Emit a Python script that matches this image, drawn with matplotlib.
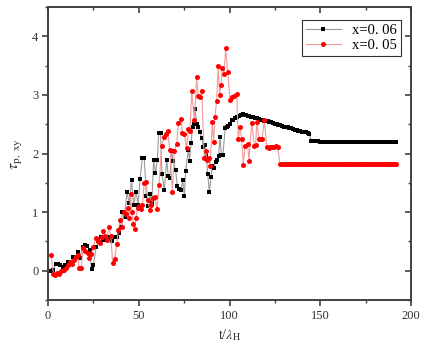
import matplotlib
matplotlib.use("Agg")
import matplotlib.pyplot as plt
from matplotlib.ticker import MultipleLocator

# x=0.06 (black squares)
t_06 = [1.6, 3.0, 4.2, 5.5, 6.8, 8.2, 9.6, 11.0, 12.3, 13.5, 14.9, 16.3, 17.6, 19.0, 20.3,
        21.6, 22.9, 24.0, 25.0, 26.5, 27.8, 29.2, 30.5, 31.8, 33.0, 34.2, 35.5, 36.8, 37.8,
        39.0, 40.0, 41.0, 42.2, 43.5, 44.8, 46.0, 47.2, 48.5, 49.6, 50.7, 52.0, 53.0, 54.2,
        55.2, 56.2, 57.2, 58.2, 59.2, 60.2, 61.0, 62.0, 62.8, 64.1, 65.4, 66.3, 67.2, 68.1,
        69.0, 70.3, 71.2, 72.2, 73.3, 74.2, 75.1, 75.9, 77.3, 78.0, 78.8, 79.7, 80.4, 81.0,
        81.9, 82.8, 83.7, 84.7, 85.6, 86.5, 87.3, 88.0, 88.9, 89.8, 90.5, 91.4, 92.3, 93.0,
        94.0, 94.8, 95.5, 96.4, 97.6, 98.4, 99.3, 100.3, 101.2, 102.2, 103.2, 104.2, 105.2,
        106.2, 107.2,
        108, 109, 110, 111, 112, 113, 114, 115, 116, 117, 118, 119, 120, 121, 122, 123, 124,
        125, 126, 127, 128, 129, 130, 131, 132, 133, 134, 135, 136, 137, 138, 139, 140, 141,
        142, 143, 144, 145, 146, 147, 148, 149, 150, 151, 152, 153, 154, 155, 156, 157, 158,
        159, 160, 161, 162, 163, 164, 165, 166, 167, 168, 169, 170, 171, 172, 173, 174, 175,
        176, 177, 178, 179, 180, 181, 182, 183, 184, 185, 186, 187, 188, 189, 190, 191, 192]
tau_06 = [0.00, 0.02, 0.11, 0.11, 0.10, 0.06, 0.09, 0.15, 0.12, 0.23, 0.20, 0.32, 0.22, 0.40,
          0.44, 0.43, 0.36, 0.03, 0.10, 0.40, 0.51, 0.57, 0.52, 0.53, 0.55, 0.57, 0.50, 0.57,
          0.57, 0.65, 0.75, 1.00, 0.92, 1.34, 1.15, 1.54, 1.12, 1.35, 1.12, 1.56, 1.93, 1.93,
          1.28, 1.10, 1.31, 1.15, 1.89, 1.66, 1.89, 2.35, 2.35, 1.65, 1.38, 1.89, 1.61, 1.58,
          2.05, 1.87, 1.72, 1.45, 1.40, 1.38, 1.55, 1.28, 1.71, 2.06, 1.88, 2.18, 2.46, 2.50,
          2.76, 2.51, 2.45, 2.36, 2.26, 2.12, 2.15, 1.95, 1.65, 1.34, 1.60, 1.78, 1.76, 1.85,
          1.89, 1.95, 2.29, 1.98, 1.98, 2.43, 2.45, 2.47, 2.50, 2.58, 2.58, 2.60, 2.62, 2.64,
          2.66, 2.68,
          2.66, 2.65, 2.64, 2.64, 2.63, 2.62, 2.61, 2.60, 2.59, 2.58, 2.57, 2.56, 2.55, 2.55,
          2.54, 2.53, 2.52, 2.51, 2.50, 2.49, 2.48, 2.47, 2.46, 2.46, 2.45, 2.44, 2.43, 2.42,
          2.41, 2.40, 2.39, 2.38, 2.37, 2.37, 2.36, 2.35, 2.34, 2.21, 2.21, 2.22, 2.22, 2.21,
          2.20, 2.20, 2.19, 2.19, 2.19, 2.19, 2.19, 2.19, 2.19, 2.19, 2.19, 2.19, 2.19, 2.19,
          2.19, 2.19, 2.19, 2.19, 2.19, 2.19, 2.19, 2.19, 2.19, 2.19, 2.19, 2.19, 2.19, 2.19,
          2.19, 2.19, 2.19, 2.19, 2.19, 2.19, 2.19, 2.19, 2.19, 2.19, 2.19, 2.19, 2.19, 2.19,
          2.19]

# x=0.05 (red circles)
t_05 = [1.6, 3.0, 3.6, 4.8, 6.0, 7.4, 8.6, 9.8, 11.0, 12.2, 13.2, 14.4, 15.4, 16.4, 17.2,
        18.2, 19.4, 20.6, 21.8, 22.8, 23.8, 25.0, 26.2, 27.4, 28.5, 29.5, 30.5, 31.5, 32.4,
        33.5, 34.6, 35.6, 36.8, 37.8, 38.8, 39.8, 40.8, 41.8, 42.8, 43.8, 44.6, 45.5, 46.2,
        47.0, 47.8, 48.5, 49.4, 50.3, 51.2, 52.0, 53.0, 54.0, 55.0, 56.0, 57.0, 58.0, 59.0,
        60.0, 61.2, 62.6, 64.1, 65.0, 65.9, 67.2, 68.5, 69.6, 70.9, 71.8, 73.3, 74.0, 75.0,
        76.4, 77.3, 78.2, 79.2, 80.6, 81.9, 82.8, 83.7, 84.7, 86.1, 86.9, 87.7, 88.6, 89.3,
        90.5, 91.2, 92.0, 92.9, 93.8, 94.5, 95.3, 96.0, 97.0, 97.9, 99.0, 100.3, 101.5, 102.6,
        104.0, 104.8, 105.8, 106.7, 107.6, 108.5, 110.0, 110.7, 112.2, 113.7, 114.4, 115.0,
        116.3, 117.2, 118.0, 119.2, 120.5, 121.5, 122.5, 123.5, 124.5, 125.5, 126.5, 127.8,
        129, 130, 131, 132, 133, 134, 135, 136, 137, 138, 139, 140, 141, 142, 143, 144, 145,
        146, 147, 148, 149, 150, 151, 152, 153, 154, 155, 156, 157, 158, 159, 160, 161, 162,
        163, 164, 165, 166, 167, 168, 169, 170, 171, 172, 173, 174, 175, 176, 177, 178, 179,
        180, 181, 182, 183, 184, 185, 186, 187, 188, 189, 190, 191, 192]
tau_05 = [0.26, -0.05, -0.08, -0.04, -0.06, -0.01, 0.01, 0.05, 0.09, 0.15, 0.12, 0.18, 0.24,
          0.27, 0.05, 0.05, 0.38, 0.34, 0.30, 0.22, 0.28, 0.41, 0.56, 0.50, 0.47, 0.57, 0.68,
          0.60, 0.53, 0.74, 0.60, 0.14, 0.20, 0.45, 0.70, 0.87, 0.75, 1.01, 0.97, 1.07, 0.90,
          1.31, 1.00, 0.80, 0.72, 0.90, 1.07, 1.10, 1.05, 1.12, 1.50, 1.51, 1.21, 1.04, 1.13,
          1.24, 1.26, 1.05, 1.47, 2.13, 2.29, 2.34, 2.38, 2.06, 1.35, 2.05, 2.17, 2.52, 2.59,
          2.35, 2.34, 2.09, 2.42, 2.38, 3.06, 2.57, 3.30, 2.99, 2.97, 3.06, 1.92, 2.04, 1.89,
          1.92, 1.78, 2.53, 2.20, 2.63, 2.90, 3.50, 3.00, 3.17, 3.46, 3.36, 3.80, 3.40, 2.92,
          2.96, 2.98, 3.02, 2.24, 2.46, 2.24, 1.81, 2.13, 2.17, 1.88, 2.52, 2.13, 2.14, 2.53,
          2.24, 2.25, 2.25, 2.57, 2.11, 2.10, 2.11, 2.12, 2.12, 2.13, 2.12, 1.83,
          1.82, 1.82, 1.82, 1.82, 1.82, 1.82, 1.82, 1.82, 1.82, 1.82, 1.82, 1.82, 1.82, 1.82,
          1.82, 1.82, 1.82, 1.82, 1.82, 1.82, 1.82, 1.82, 1.82, 1.82, 1.82, 1.82, 1.82, 1.82,
          1.82, 1.82, 1.82, 1.82, 1.82, 1.82, 1.82, 1.82, 1.82, 1.82, 1.82, 1.82, 1.82, 1.82,
          1.82, 1.82, 1.82, 1.82, 1.82, 1.82, 1.82, 1.82, 1.82, 1.82, 1.82, 1.82, 1.82, 1.82,
          1.82, 1.82, 1.82, 1.82, 1.82, 1.82, 1.82, 1.82]

labels = ["x=0. 06", "x=0. 05"]

plt.rcParams['font.family'] = ['Liberation Serif', 'DejaVu Serif']
plt.rcParams['mathtext.fontset'] = 'stix'

fig = plt.figure(figsize=(4.25, 3.54), dpi=100)
ax = fig.add_axes([0.113, 0.1525, 0.854, 0.8275])

ax.plot(t_06, tau_06, '-', color='#9a9a9a', lw=0.8, marker='s', ms=3.2,
        mfc='black', mec='black', mew=0, label=labels[0])
ax.plot(t_05, tau_05, '-', color='#f59a9a', lw=0.8, marker='o', ms=3.6,
        mfc='red', mec='red', mew=0, label=labels[1])

ax.set_xlim(0, 200)
ax.set_ylim(-0.5, 4.5)
ax.xaxis.set_major_locator(MultipleLocator(50))
ax.xaxis.set_minor_locator(MultipleLocator(25))
ax.yaxis.set_major_locator(MultipleLocator(1))
ax.yaxis.set_minor_locator(MultipleLocator(0.5))

for s in ax.spines.values():
    s.set_color('#404040')
    s.set_linewidth(1.4)

ax.tick_params(which='major', direction='out', length=4, width=1.2, color='#404040',
               labelsize=9, labelcolor='#333333', pad=3)
ax.tick_params(which='minor', direction='out', length=2.5, width=1.0, color='#404040')

# mirrored ticks on top and right pointing into the plot
top = ax.secondary_xaxis('top')
right = ax.secondary_yaxis('right')
top.xaxis.set_major_locator(MultipleLocator(50))
top.xaxis.set_minor_locator(MultipleLocator(25))
top.set_xticklabels([])
right.yaxis.set_major_locator(MultipleLocator(1))
right.yaxis.set_minor_locator(MultipleLocator(0.5))
right.set_yticklabels([])
for sec in (top, right):
    sec.tick_params(which='major', direction='in', length=4, width=1.2, color='#404040')
    sec.tick_params(which='minor', direction='in', length=2.5, width=1.0, color='#404040')
    for s in sec.spines.values():
        s.set_visible(False)

ax.set_xlabel(r"t/$\lambda_{\mathrm{H}}$", fontsize=10, color='#333333', labelpad=4)
ax.set_ylabel(r"$\tau_{\mathrm{p,\ xy}}$", fontsize=11.5, color='#333333', labelpad=6)

leg = ax.legend(loc='upper right', bbox_to_anchor=(0.98, 0.965), fontsize=10.5,
                frameon=True, fancybox=False, edgecolor='#333333', framealpha=1,
                handlelength=2.4, borderpad=0.25, labelspacing=0.15, handletextpad=0.8,
                borderaxespad=0.2)
leg.get_frame().set_linewidth(0.8)

fig.savefig('out.png', dpi=100)
